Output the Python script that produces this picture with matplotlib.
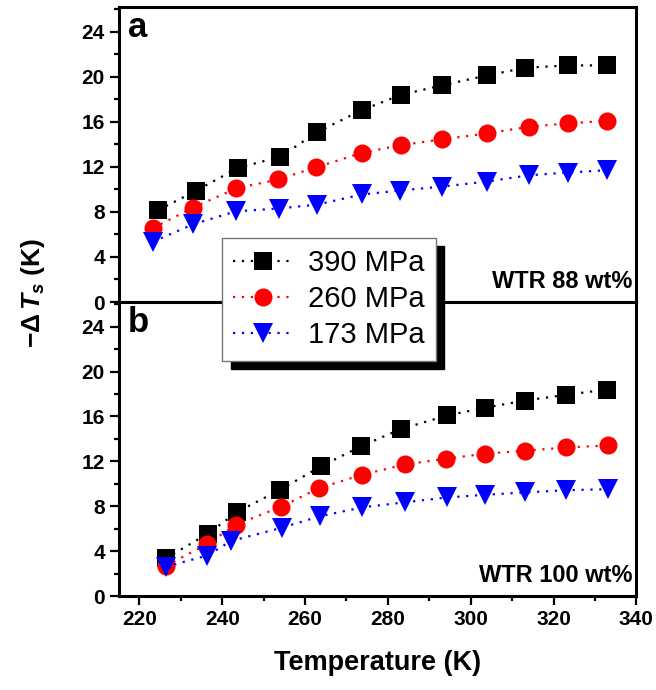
import numpy as np
import matplotlib.pyplot as plt
from matplotlib.ticker import MultipleLocator

plt.rcParams['font.family'] = ['Liberation Sans', 'DejaVu Sans']
plt.rcParams['mathtext.fontset'] = 'custom'
plt.rcParams['mathtext.rm'] = 'Liberation Sans:bold'
plt.rcParams['mathtext.it'] = 'Liberation Sans:italic:bold'
plt.rcParams['mathtext.bf'] = 'Liberation Sans:bold'

labels = ['390 MPa', '260 MPa', '173 MPa']

# panel a: WTR 88 wt%
t_a_390 = [224.5, 233.6, 243.8, 254.0, 262.8, 273.7, 283.2, 293.1, 303.9, 313.2, 323.5, 332.8]
dt_a_390 = [8.15, 9.87, 11.91, 12.89, 15.06, 17.04, 18.40, 19.24, 20.12, 20.80, 21.01, 21.01]
t_a_260 = [223.2, 233.0, 243.4, 253.5, 262.6, 273.7, 283.1, 293.0, 303.9, 314.0, 323.5, 332.8]
dt_a_260 = [6.55, 8.39, 10.10, 10.88, 11.95, 13.24, 13.93, 14.44, 14.97, 15.56, 15.86, 16.09]
t_a_173 = [223.2, 233.0, 243.2, 253.6, 262.9, 273.8, 282.9, 293.1, 303.9, 314.0, 323.5, 332.8]
dt_a_173 = [5.35, 6.90, 8.05, 8.30, 8.65, 9.55, 9.90, 10.25, 10.70, 11.25, 11.50, 11.70]

# panel b: WTR 100 wt%
t_b_390 = [226.3, 236.6, 243.6, 254.0, 263.9, 273.6, 283.1, 294.3, 303.4, 313.1, 323.1, 332.8]
dt_b_390 = [3.35, 5.57, 7.49, 9.48, 11.56, 13.36, 14.87, 16.09, 16.77, 17.42, 17.93, 18.40]
t_b_260 = [226.3, 236.3, 243.4, 254.1, 263.3, 273.8, 284.2, 294.1, 303.4, 313.2, 323.1, 333.1]
dt_b_260 = [2.67, 4.62, 6.37, 7.94, 9.60, 10.81, 11.73, 12.24, 12.68, 12.95, 13.24, 13.42]
t_b_173 = [226.3, 236.3, 242.1, 254.5, 263.5, 273.8, 284.1, 294.2, 303.4, 313.2, 323.1, 333.1]
dt_b_173 = [2.60, 3.60, 4.90, 6.10, 7.10, 7.90, 8.35, 8.78, 9.02, 9.23, 9.43, 9.52]

colors = ['black', 'red', 'blue']
markers = ['s', 'o', 'v']
msizes = [13, 13, 15]

fig = plt.figure(figsize=(6.56, 6.90), dpi=100)
ax_a = fig.add_axes([0.181, 0.5623, 0.789, 0.4276])
ax_b = fig.add_axes([0.181, 0.1362, 0.789, 0.4261])

panels = [
    (ax_a, [(t_a_390, dt_a_390), (t_a_260, dt_a_260), (t_a_173, dt_a_173)], 'a', 'WTR 88 wt%'),
    (ax_b, [(t_b_390, dt_b_390), (t_b_260, dt_b_260), (t_b_173, dt_b_173)], 'b', 'WTR 100 wt%'),
]

for ax, series, tag, note in panels:
    for (t, dt), c, m, ms, lab in zip(series, colors, markers, msizes, labels):
        ax.plot(t, dt, color=c, linestyle=(0, (1, 3)), linewidth=1.6,
                marker=m, markersize=ms, markeredgewidth=0, label=lab)
    ax.set_xlim(215, 340)
    ax.set_ylim(0, 26.2)
    ax.yaxis.set_major_locator(MultipleLocator(4))
    ax.yaxis.set_minor_locator(MultipleLocator(2))
    ax.xaxis.set_major_locator(MultipleLocator(20))
    ax.xaxis.set_minor_locator(MultipleLocator(10))
    for sp in ax.spines.values():
        sp.set_linewidth(2.2)
    ax.tick_params(which='major', direction='out', length=6.5, width=1.6,
                   labelsize=15, right=False, top=False)
    ax.tick_params(which='minor', direction='out', length=3.5, width=1.6,
                   right=False, top=False)
    for lbl in ax.get_xticklabels() + ax.get_yticklabels():
        lbl.set_fontweight('bold')
    ax.text(0.018, 0.985, tag, transform=ax.transAxes, fontsize=25,
            fontweight='bold', ha='left', va='top')
    ax.text(0.992, 0.03, note, transform=ax.transAxes, fontsize=17,
            fontweight='bold', ha='right', va='bottom')

ax_a.tick_params(axis='x', which='both', bottom=False, labelbottom=False)
ax_b.set_xlabel('Temperature (K)', fontsize=19.5, fontweight='bold', labelpad=15)
fig.text(0.05, 0.575, r'$-\Delta\,T_s$ (K)', rotation=90, fontsize=19,
         fontweight='bold', ha='center', va='center')

handles, labs = ax_a.get_legend_handles_labels()
leg = fig.legend(handles, labs, loc='upper left', bbox_to_anchor=(0.339, 0.655),
                 borderaxespad=0, fontsize=21, frameon=True, fancybox=False,
                 framealpha=1, edgecolor='#777777', handlelength=2.05,
                 handletextpad=0.5, labelspacing=0.28, borderpad=0.38,
                 shadow={'ox': 6, 'oy': -6, 'facecolor': 'black', 'edgecolor': 'black', 'alpha': 1})
leg.get_frame().set_linewidth(1.0)

fig.savefig('out.png', dpi=100)
